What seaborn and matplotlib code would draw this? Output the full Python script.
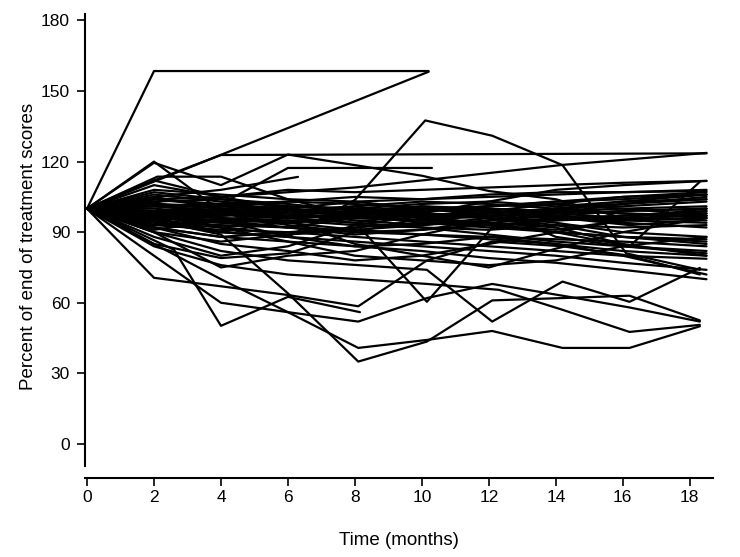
import pandas as pd
import matplotlib.pyplot as plt
import seaborn as sns

# regular visit times (months) for most subjects
visits = [0, 2, 4, 6, 8, 10, 12, 14, 16, 18.5]

# percent of end-of-treatment score at the regular visits (shorter = dropped out)
core = [
    [100, 104, 102, 103, 105, 104, 106, 107, 107, 107.5],
    [100, 102, 101, 100, 103, 104, 105, 106, 107, 108],
    [100, 98, 97, 99, 98, 100, 101, 103, 104, 106],
    [100, 96, 95, 94, 96, 95, 97, 98, 99, 100],
    [100, 101, 99, 97, 96, 95, 94, 96, 95, 96],
    [100, 97, 96, 95, 93, 92, 91, 93, 92, 93],
    [100, 95, 93, 92, 90, 89, 88, 87, 86, 84],
    [100, 99, 98, 96, 94, 92, 89, 86, 84, 81],
    [100, 93, 91, 90, 88, 86, 84, 82, 80, 78.7],
    [100, 94, 90, 88, 86, 84, 82, 80, 77, 74],
    [100, 92, 88, 86, 84, 82, 79, 77, 74, 70],
    [100, 103, 104, 102, 99, 97, 98, 100, 102, 104],
    [100, 106, 103, 101, 100, 102, 103, 101, 103, 104],
    [100, 108, 106, 104, 103, 100, 98, 96, 97, 99],
    [100, 110, 105, 108, 107, 108, 109, 110, 111, 111.8],
    [100, 105, 100, 96, 98, 101, 99, 97, 94, 92],
    [100, 91, 95, 97, 99, 101, 100, 98, 96, 95],
    [100, 97, 92, 94, 97, 99, 101, 102, 100, 97],
    [100, 98, 100, 98, 95, 93, 95, 97, 99, 100],
    [100, 95, 97, 99, 101, 103, 102, 100, 98, 96],
    [100, 90, 86, 89, 92, 94, 93, 90, 88, 87],
    [100, 102, 98, 93, 90, 91, 95, 98, 102, 105],
    [100, 99, 101, 103, 102, 100, 97, 94, 90, 88],
    [100, 97, 94, 92, 96, 98, 96, 93, 88, 85],
    [100, 104, 101, 99, 97, 94, 92, 90, 88, 86],
    [100, 96, 98, 100, 97, 95, 93, 91, 95, 99],
    [100, 93, 95, 92, 89, 91, 93, 95, 97, 98],
    [100, 99, 97, 98, 99, 98, 97, 99, 100, 101],
    [100, 100, 98, 96, 97, 99, 100, 99, 98, 97],
    [100, 102, 100, 99, 100, 98, 96, 95, 96, 97],
    [100, 97, 99, 101, 100, 99, 101, 103, 105, 106],
    [100, 101, 102, 100, 98, 97, 98, 100, 101, 103],
    [100, 96, 94, 96, 98, 100, 99, 97, 95, 94],
    [100, 101, 99, 97, 96],
    [100, 107, 104, 101],
    [100, 94, 92, 89, 91, 93, 96],
    [100, 112, 105, 100, 98, 96, 94, 92],
    [100, 98, 96, 94, 91, 89, 87, 85, 82, 80],
    [100, 88, 80, 84, 93, 97, 96, 92, 85, 80],
    [100, 90, 75, 80, 82, 89, 95, 100, 103, 106],
    [100, 98, 92, 86, 80, 78, 76, 78, 84, 88],
    [100, 85, 79, 81, 90, 96, 100, 88, 84, 82],
    [100, 103, 95, 88, 84, 85, 88, 85, 80, 72],
    [100, 92, 85, 82, 78, 80, 85, 90, 95, 98],
    [100, 96, 90, 95, 85, 80, 75, 83, 90, 96],
]

# subjects rising above baseline, with their own visit times
upper_times = [
    [0, 2, 10.2],
    [0, 2, 10.2],
    [0, 2, 4, 18.5],
    [0, 2, 4, 6, 8, 10, 12, 14, 16, 18.5],
    [0, 2, 4, 6, 8, 10.1, 12.1, 14.2, 16.1, 18.3],
    [0, 2, 4, 6.3],
    [0, 2.1, 4, 6, 8, 10, 12, 14, 16, 18.5],
    [0, 2, 4, 6, 10.3],
    [0, 2, 4, 6, 8, 10, 12.3, 14.2, 18.5],
    [0, 2, 4, 6, 8, 10, 12, 14, 16.2, 18.3],
    [0, 2, 4, 6, 8, 10, 12, 14, 16, 18.5],
]
upper_scores = [
    [100, 158.5, 158.5],
    [100, 111.5, 158.2],
    [100, 112, 122.8, 123.5],
    [100, 119.5, 110, 123, 118.5, 114, 107.5, 104, 96, 100],
    [100, 96, 90, 88, 103.7, 137.5, 131, 118.5, 81, 74],
    [100, 105, 108, 113.5],
    [100, 113.6, 113.6, 104, 97, 95, 99, 102, 105, 107],
    [100, 97, 102, 117.3, 117.3],
    [100, 104, 105, 107, 109, 112, 115.6, 118.6, 123.7],
    [100, 97, 95, 99, 101, 97, 93, 90, 84, 111.4],
    [100, 120, 99, 96, 94, 98, 103, 108, 110, 111.8],
]

# subjects falling well below baseline
lower_times = [
    [0, 2, 4, 6, 8.1, 10.15, 12.1, 14.2, 16.2, 18.3],
    [0, 2, 4, 6, 8.1, 10.15, 12.1, 14.2, 16.2, 18.3],
    [0, 2, 4, 6, 8.1, 10.15, 12.1, 14.2, 16.2, 18.3],
    [0, 2, 4, 6, 8.1, 10.15, 12.1, 14.2, 16.2, 18.3],
    [0, 2, 4, 6, 8.1, 10.15, 12.1, 14.2, 16.2, 18.3],
    [0, 2.6, 4, 6, 8.15],
    [0, 2, 4, 6, 8.1, 10.15, 12.3, 14.2, 16.2, 18.3],
    [0, 2, 4, 6, 8.15, 10.15, 12.1, 14.2, 16.2, 18.3],
]
lower_scores = [
    [100, 70.6, 67, 63.3, 58.5, 78, 86, 84, 80, 72],
    [100, 85, 70, 56, 40.8, 44.2, 48, 40.8, 40.8, 50],
    [100, 95, 89, 64, 35, 43.5, 61, 62, 63, 52.5],
    [100, 80, 60, 56, 52, 62, 68, 63, 58, 52],
    [100, 90, 82, 78, 76, 74, 52, 69, 60.4, 74.8],
    [100, 82.5, 50.2, 62.5, 56],
    [100, 84, 76, 72, 70, 68, 65.5, 57, 47.6, 50.6],
    [100, 92, 88, 90, 92, 60.4, 92, 96, 93, 95],
]

rows = []
sid = 0
for vals in core:
    for t, v in zip(visits, vals):
        rows.append((sid, t, v))
    sid += 1
for times, vals in zip(upper_times + lower_times, upper_scores + lower_scores):
    for t, v in zip(times, vals):
        rows.append((sid, t, v))
    sid += 1
data = pd.DataFrame(rows, columns=['subject', 'month', 'pct'])

sns.set_style('ticks')
plt.rcParams['font.family'] = ['Liberation Sans', 'DejaVu Sans']
plt.rcParams['text.color'] = 'black'
plt.rcParams['axes.labelcolor'] = 'black'

fig = plt.figure(figsize=(7.4, 5.57), dpi=100)
ax = fig.add_axes([0.1149, 0.1418, 0.848, 0.8333])

sns.lineplot(data=data, x='month', y='pct', units='subject', estimator=None,
             color='black', linewidth=1.6, ax=ax, legend=False)

ax.set_xlim(-0.06, 18.68)
ax.set_ylim(-14.5, 182.8)
ax.set_xticks(range(0, 19, 2))
ax.set_yticks(range(0, 181, 30))
ax.spines['left'].set_bounds(-9.3, 182.8)
ax.spines['top'].set_visible(False)
ax.spines['right'].set_visible(False)
for s in ['left', 'bottom']:
    ax.spines[s].set_linewidth(1.5)
    ax.spines[s].set_color('black')
ax.tick_params(axis='both', length=5.8, width=1.2, labelsize=12.5, colors='black')
ax.tick_params(axis='y', pad=5)
ax.tick_params(axis='x', pad=3)
ax.set_xlabel('Time (months)', fontsize=13.5, labelpad=19, color='black')
ax.set_ylabel('Percent of end of treatment scores', fontsize=13.5, labelpad=3,
              color='black')

fig.savefig('out.png', dpi=100)
